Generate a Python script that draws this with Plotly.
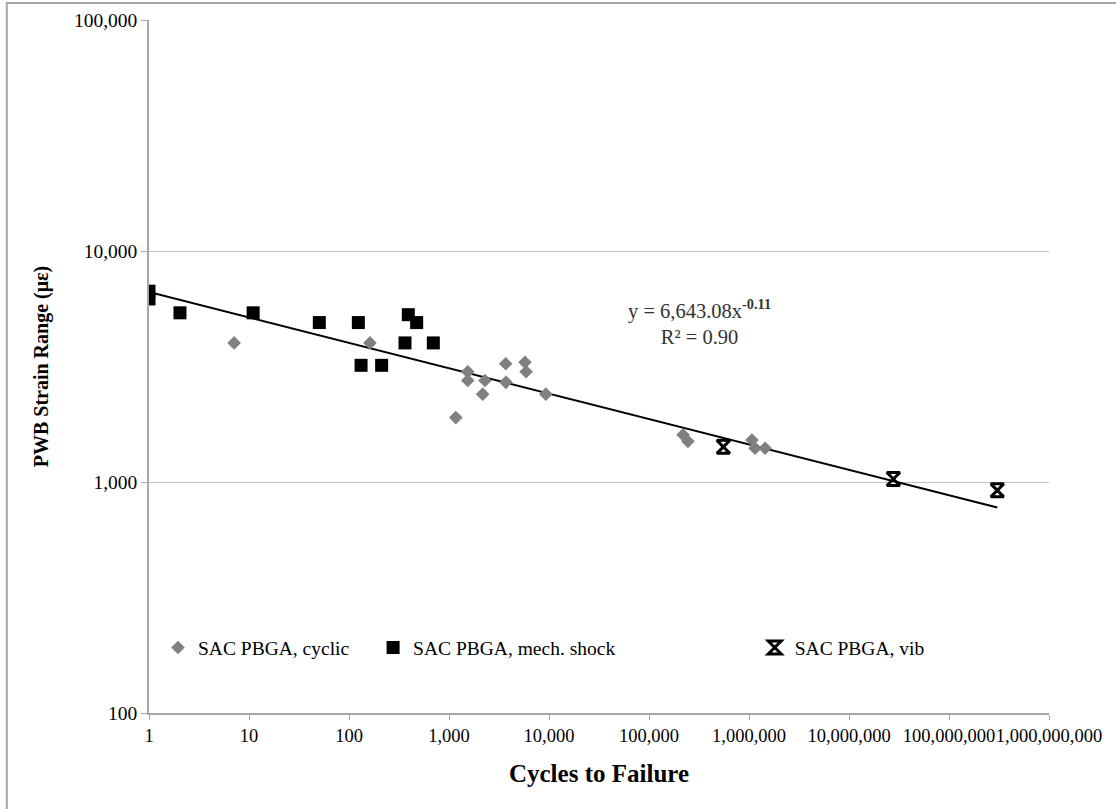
import numpy as np
import plotly.graph_objects as go

# Cycles to failure and PWB strain range (microstrain) per test type
cyclic_cycles = [7.1, 162, 1170, 1540, 1540, 2290, 2170, 3690, 3710, 5750, 5900, 9300,
                 219000, 245000, 1070000, 1150000, 1450000]
cyclic_strain = [4000, 4000, 1900, 3000, 2750, 2750, 2400, 3250, 2700, 3300, 3000, 2400,
                 1600, 1500, 1520, 1400, 1400]

shock_cycles = [1, 1, 2.04, 11.0, 50.5, 124, 132, 212, 392, 475, 363, 697]
shock_strain = [6700, 6200, 5400, 5400, 4900, 4900, 3200, 3200, 5300, 4900, 4000, 4000]

vib_cycles = [554000, 27800000, 304000000]
vib_strain = [1420, 1030, 920]

# Power-law fit y = a * x^b
fit_a = 6643.08
fit_b = -0.11
fit_r2 = 0.90

x_ticks = [1, 10, 100, 1e3, 1e4, 1e5, 1e6, 1e7, 1e8, 1e9]
x_tick_text = ["1", "10", "100", "1,000", "10,000", "100,000", "1,000,000",
               "10,000,000", "100,000,000", "1,000,000,000"]
y_ticks = [100, 1000, 10000, 100000]
y_tick_text = ["100", "1,000", "10,000", "100,000"]

all_cycles = cyclic_cycles + shock_cycles + vib_cycles
fit_x = np.array([min(all_cycles), max(all_cycles)])
fit_y = fit_a * fit_x ** fit_b

SERIF = "Liberation Serif, Times New Roman, serif"

fig = go.Figure()
fig.add_trace(go.Scatter(
    x=fit_x, y=fit_y, mode="lines", line=dict(color="black", width=2),
    showlegend=False, hoverinfo="skip"))
fig.add_trace(go.Scatter(
    x=cyclic_cycles, y=cyclic_strain, mode="markers", name="SAC PBGA, cyclic",
    marker=dict(symbol="diamond", size=10.5, color="#808080"), legend="legend"))
fig.add_trace(go.Scatter(
    x=shock_cycles, y=shock_strain, mode="markers", name="SAC PBGA, mech. shock",
    marker=dict(symbol="square", size=13, color="black"), legend="legend2"))
fig.add_trace(go.Scatter(
    x=vib_cycles, y=vib_strain, mode="markers", name="SAC PBGA, vib",
    marker=dict(symbol="hourglass-open", size=13, color="black",
                line=dict(color="black", width=3)), legend="legend3"))

fig.add_annotation(
    x=np.log10(3.2e5), y=np.log10(4950), xref="x", yref="y",
    text=f"y = {fit_a:,.2f}x<sup><b>{fit_b:.2f}</b></sup><br>R² = {fit_r2:.2f}",
    showarrow=False, font=dict(family=SERIF, size=20.5, color="#333333"), align="center")

legend_common = dict(orientation="h", yanchor="middle", y=0.094, xanchor="left",
                     bgcolor="rgba(0,0,0,0)", font=dict(family=SERIF, size=19.5, color="black"))

# Frame around the whole chart
fig.add_shape(type="rect", xref="paper", yref="paper",
              x0=-0.158, x1=1.08, y0=-0.15, y1=1.0245,
              line=dict(color="#a6a6a6", width=2), layer="below")

fig.update_layout(
    width=1116, height=809,
    margin=dict(l=149, r=67, t=20, b=96, autoexpand=False),
    paper_bgcolor="white", plot_bgcolor="white",
    font=dict(family=SERIF, color="black"),
    legend=dict(legend_common, x=0.01),
    legend2=dict(legend_common, x=0.249),
    legend3=dict(legend_common, x=0.673),
    xaxis=dict(
        type="log", range=[0, 9], tickvals=x_ticks, ticktext=x_tick_text,
        showgrid=False, showline=True, linecolor="#a6a6a6", linewidth=1.5,
        ticks="outside", ticklen=5, tickcolor="#a6a6a6", tickangle=0, automargin=False,
        tickfont=dict(family=SERIF, size=18.5, color="black"),
        title=dict(text="<b>Cycles to Failure</b>", standoff=20,
                   font=dict(family=SERIF, size=25, color="black")),
        zeroline=False),
    yaxis=dict(
        type="log", range=[2, 5], tickvals=y_ticks, ticktext=y_tick_text,
        showgrid=True, gridcolor="#c0c0c0", gridwidth=1.3,
        showline=True, linecolor="#a6a6a6", linewidth=1.5, automargin=False,
        ticks="outside", ticklen=6, tickcolor="#a6a6a6",
        tickfont=dict(family=SERIF, size=19.5, color="black"),
        title=dict(text="<b>PWB Strain Range (με)</b>", standoff=20,
                   font=dict(family=SERIF, size=20, color="black")),
        zeroline=False),
)

fig.write_html("out.html")
